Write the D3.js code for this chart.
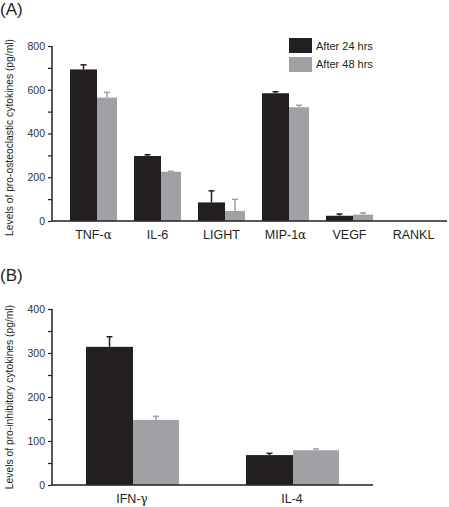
<!DOCTYPE html>
<html>
<head>
<meta charset="utf-8">
<script src="https://cdn.jsdelivr.net/npm/d3@7"></script>
<style>
  html, body { margin: 0; padding: 0; background: #fff; }
  svg { display: block; font-family: "Liberation Sans", Arial, sans-serif; }
</style>
</head>
<body>
<svg id="chart" width="449" height="507"></svg>
<script>
// ---------- data ----------
const seriesNames = ["After 24 hrs", "After 48 hrs"];

const catsA = ["TNF-α", "IL-6", "LIGHT", "MIP-1α", "VEGF", "RANKL"];
const a24 = [693, 297, 85, 584, 24, 0];
const a24err = [21, 6, 53, 7, 8, 0];
const a48 = [564, 225, 46, 520, 29, 0];
const a48err = [24, 2, 53, 9, 8, 0];
const ticksA = [0, 100, 200, 300, 400, 500, 600, 700, 800];
const titleA = "Levels of pro-osteoclastic cytokines (pg/ml)";

const catsB = ["IFN-γ", "IL-4"];
const b24 = [314, 68];
const b24err = [23, 4];
const b48 = [148, 79];
const b48err = [8, 3];
const ticksB = [0, 50, 100, 150, 200, 250, 300, 350, 400];
const titleB = "Levels of pro-inhibitory cytokines (pg/ml)";

// ---------- styles ----------
const C_BLACK = "#231f20";
const C_GRAY = "#a0a1a4";
const TXT = "#231f20";

const svg = d3.select("#chart");

function addLabel(t, s) {
  // Greek letters drawn in a serif face like the original's symbol font
  const parts = s.split(/([α-ω])/);
  parts.forEach(p => {
    if (!p) return;
    const ts = t.append("tspan").text(p);
    if (/[α-ω]/.test(p)) ts.style("font-family", '"DejaVu Serif", "Liberation Serif", serif').style("font-size", "12px");
  });
}

function panel(opt) {
  const g = svg.append("g");
  const y = d3.scaleLinear().domain([0, opt.ymax]).range([opt.y0, opt.y1]);
  const x = d3.scaleBand().domain(opt.cats).range([opt.xStart, opt.xStart + opt.step * opt.cats.length]);

  const rows = opt.cats.map((c, i) => ({
    c,
    vals: [
      { s: 0, v: opt.s1[i], e: opt.e1[i], x: x(c), w: opt.w1, col: C_BLACK },
      { s: 1, v: opt.s2[i], e: opt.e2[i], x: x(c) + opt.w1, w: opt.w2, col: C_GRAY }
    ]
  }));

  // error bars
  rows.forEach(r => r.vals.forEach(d => {
    if (d.e > 0) {
      const cx = d.x + d.w / 2;
      g.append("line").attr("x1", cx).attr("x2", cx)
        .attr("y1", y(d.v)).attr("y2", y(d.v + d.e))
        .attr("stroke", d.col).attr("stroke-width", 1.5);
      g.append("line").attr("x1", cx - 3).attr("x2", cx + 3)
        .attr("y1", y(d.v + d.e)).attr("y2", y(d.v + d.e))
        .attr("stroke", d.col).attr("stroke-width", 1.5);
    }
  }));

  // bars
  rows.forEach(r => r.vals.forEach(d => {
    if (d.v > 0) {
      g.append("rect").attr("x", d.x).attr("width", d.w)
        .attr("y", y(d.v)).attr("height", y(0) - y(d.v))
        .attr("fill", d.col);
    }
  }));

  // y axis
  const ax = d3.axisLeft(y).tickValues(opt.ticks).tickSize(4).tickPadding(3)
    .tickFormat(v => (opt.labelEvery && v % opt.labelEvery === 0) ? v : "");
  const ag = g.append("g").attr("transform", `translate(${opt.axisX},0)`).call(ax);
  ag.select(".domain").attr("stroke", C_BLACK).attr("stroke-width", 1.5).attr("d", `M0,${opt.y1}V${opt.y0}`);
  ag.selectAll(".tick line").attr("stroke", C_BLACK).attr("stroke-width", 1.2);
  ag.selectAll(".tick text").attr("fill", "#333").style("font-size", "10.5px")
    .style("font-family", '"Liberation Sans", Arial, sans-serif');

  // x axis line
  g.append("line").attr("x1", opt.axisX).attr("x2", opt.xEnd)
    .attr("y1", y(0)).attr("y2", y(0))
    .attr("stroke", C_BLACK).attr("stroke-width", 1.5);

  // category labels
  opt.cats.forEach(c => {
    const t = g.append("text").attr("x", x(c) + opt.labelOff).attr("y", opt.labelY)
      .attr("text-anchor", "middle").attr("fill", TXT)
      .style("font-size", "12.5px");
    addLabel(t, c);
  });

  // y title
  g.append("text")
    .attr("transform", `translate(${opt.titleX},${(opt.y0 + opt.y1) / 2 + opt.titleDy}) rotate(-90)`)
    .attr("text-anchor", "middle").attr("fill", TXT)
    .style("font-size", "10.3px").text(opt.title);

  // panel letter
  g.append("text").attr("x", 0).attr("y", opt.letterY).attr("fill", TXT)
    .style("font-size", "17px").text(opt.letter);

  return { g, x, y };
}

panel({
  cats: catsA, s1: a24, e1: a24err, s2: a48, e2: a48err,
  ymax: 800, y0: 221, y1: 46, ticks: ticksA, labelEvery: 200,
  xStart: 70, step: 64, w1: 27, w2: 20, axisX: 52, xEnd: 447,
  labelOff: 23.5, labelY: 239, title: titleA, titleX: 13, titleDy: 4,
  letter: "(A)", letterY: 15
});

panel({
  cats: catsB, s1: b24, e1: b24err, s2: b48, e2: b48err,
  ymax: 400, y0: 485, y1: 309, ticks: ticksB, labelEvery: 100,
  xStart: 86, step: 160, w1: 47, w2: 46, axisX: 52, xEnd: 373,
  labelOff: 46, labelY: 503, title: titleB, titleX: 13, titleDy: 0,
  letter: "(B)", letterY: 281
});

// legend
const leg = svg.append("g");
seriesNames.forEach((s, i) => {
  leg.append("rect").attr("x", 289).attr("y", 38 + i * 19)
    .attr("width", 23).attr("height", 15)
    .attr("fill", i === 0 ? C_BLACK : C_GRAY);
  leg.append("text").attr("x", 316).attr("y", 49.5 + i * 18.5)
    .attr("fill", TXT).style("font-size", "11px").text(s);
});
</script>
</body>
</html>
